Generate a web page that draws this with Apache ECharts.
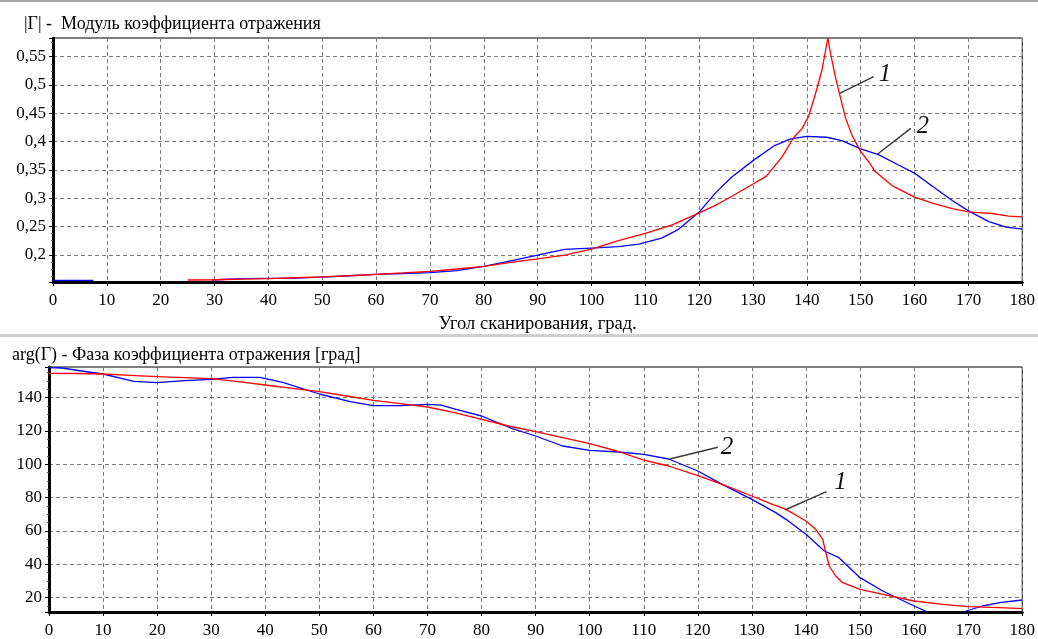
<!DOCTYPE html>
<html>
<head>
<meta charset="utf-8">
<script src="https://cdn.jsdelivr.net/npm/echarts@6/dist/echarts.min.js"></script>
<style>
html,body{margin:0;padding:0;background:#fff;}
#c{width:1038px;height:639px;}
</style>
</head>
<body>
<div id="c"></div>
<script>
// ---------- DATA ----------
const xTicks = [0,10,20,30,40,50,60,70,80,90,100,110,120,130,140,150,160,170,180];

// |Γ| curve 1 (red)
const magAngle1 = [25,30,35,40,45,50,55,60,65,70,75,80,85,90,95,100,105,110,115,120,123,126,130,132.5,135.4,137.6,139.1,140.3,141.6,142.8,143.9,144.4,145.3,146.2,147.2,148.4,149.9,151.5,152.7,155.8,160,163.3,167,170,174.4,177.5,180];
const magValue1 = [0.1555,0.156,0.157,0.158,0.1595,0.161,0.163,0.1655,0.168,0.1706,0.175,0.1795,0.1865,0.193,0.1995,0.21,0.225,0.238,0.253,0.274,0.2874,0.303,0.325,0.339,0.373,0.4077,0.423,0.444,0.4845,0.526,0.583,0.556,0.514,0.479,0.441,0.411,0.384,0.364,0.347,0.3223,0.302,0.2914,0.2816,0.2759,0.273,0.2684,0.2672];

// |Γ| curve 2 (blue)
const magAngle2 = [0,7.5,18,29.5,35,40,45,51,55,60,65,70,75,80,85,90,95,100,105,108.8,113,116,120,123,126,130,134,137,140,143.7,146.5,150,153.3,157,160,163.3,167,170,173.8,177,180];
const magValue2 = [0.155,0.155,null,0.1555,0.158,0.1585,0.159,0.161,0.163,0.1655,0.167,0.1685,0.172,0.1795,0.1895,0.1995,0.2095,0.212,0.2145,0.219,0.2294,0.244,0.2755,0.309,0.337,0.3664,0.393,0.4047,0.4094,0.4077,0.4018,0.387,0.377,0.3586,0.3443,0.3213,0.296,0.2776,0.2586,0.249,0.2455];

// arg(Γ) curve 1 (red)
const phaseAngle1 = [0,5,10,15,20,25,30,35,40,45,50,55,60,65,70,75,80,85,90,95,100,105,110,114.6,120,124.5,130,133.8,136.3,140,141.8,143.1,143.6,144.3,145.5,146.8,150,154.2,160,165.3,170,175.8,180];
const phaseValue1 = [154.6,154.5,154.2,153.4,152.6,152,151.4,149.6,147.6,145.6,143.6,141,138.4,136.4,134.4,131,127,123,119.6,116,112.4,108,102.5,99,93.2,88,81,76,73,66,61,55,48,39,33,29,25,22,18,16,14.6,14,13.4];

// arg(Γ) curve 2 (blue)
const phaseAngle2 = [0,2.4,6,10,15.7,20,25,30,34,39,43.4,50,55.7,60,65,70,72.5,75.3,80,85.7,90,95,100,105.4,110,114.6,120,124.5,130,134.4,136.3,140,143.4,146.1,150,154.2,160,162.3,166,169.6,172.7,175.8,180];
const phaseValue2 = [158,157.8,156,154.2,149.8,149,150.2,151,152.2,152.2,149,142.2,137.6,135.2,135.2,136,135.5,133,129,121.4,117,111,108.4,107.4,106,103.2,96,88,79,71,67,58,48,44,32,24,15,11.6,null,12,15,17,18.6];

// annotation labels: [text, fromAngle, fromValue, toAngle, toValue, textAngle, textValue]
const magNotes = [
  ['1', 146.1, 0.4853, 152.4, 0.5147, 154.5, 0.5194],
  ['2', 153.1, 0.3776, 159.3, 0.4235, 161.5, 0.426]
];
const phaseNotes = [
  ['2', 114.8, 103.2, 123.7, 110.2, 125.4, 110.4],
  ['1', 136.1, 72.6, 143.8, 83.6, 146.4, 89.4]
];

const titleTop = '|Γ| -  Модуль коэффициента отражения';
const titleBottom = 'arg(Γ) - Фаза коэффициента отражения [град]';
const xAxisName = 'Угол сканирования, град.';

// ---------- CHART ----------
const FONT = 'Liberation Serif';
const pairs = (xs, ys) => xs.map((x, i) => [x, ys[i] == null ? '-' : ys[i]]);

function notesMark(notes) {
  return {
    markLine: {
      silent: true, symbol: 'none',
      lineStyle: {color: '#3a3a3a', width: 1.5, type: 'solid'},
      label: {show: false},
      data: notes.map(n => [{coord: [n[1], n[2]]}, {coord: [n[3], n[4]]}])
    },
    markPoint: {
      silent: true, symbol: 'circle', symbolSize: 0,
      label: {show: true, position: 'inside', color: '#111', fontFamily: FONT, fontStyle: 'italic', fontSize: 25,
        formatter: p => p.name},
      data: notes.map(n => ({name: n[0], coord: [n[5], n[6]]}))
    }
  };
}

function xAxisCfg(gridIndex, withName) {
  const c = {
    type: 'value', gridIndex, min: 0, max: 180, interval: 10,
    axisLine: {show: true, onZero: false, lineStyle: {color: '#000', width: 3}},
    axisTick: {show: true, inside: false, length: 4, lineStyle: {color: '#000', width: 1}},
    minorTick: {show: true, splitNumber: 4, length: 2, lineStyle: {color: '#000', width: 1}},
    axisLabel: {color: '#000', fontFamily: FONT, fontSize: 17, margin: 10},
    splitLine: {show: true, lineStyle: {color: '#7a7a7a', width: 1, type: [4, 3]}}
  };
  if (withName) {
    c.name = xAxisName;
    c.nameLocation = 'middle';
    c.nameGap = 33;
    c.nameTextStyle = {color: '#000', fontFamily: FONT, fontSize: 18.5};
  }
  return c;
}

const magFmt = v => {
  const r = Math.round(v * 100) / 100;
  if (Math.abs(v - r) > 1e-6) return '';
  if (Math.abs(Math.round(r * 20) - r * 20) > 1e-6) return '';
  if (r < 0.19 || r > 0.56) return '';
  return String(r).replace('.', ',');
};
const phaseFmt = v => {
  const r = Math.round(v);
  if (Math.abs(v - r) > 1e-6 || r % 20 !== 0) return '';
  return String(r);
};

function yAxisCfg(gridIndex, min, max, step, fmt) {
  return {
    type: 'value', gridIndex, min, max, minInterval: step, maxInterval: step,
    axisLine: {show: true, onZero: false, lineStyle: {color: '#000', width: 3}},
    axisTick: {show: true, inside: false, length: 4, lineStyle: {color: '#000', width: 1}},
    minorTick: {show: true, splitNumber: 4, length: 2, lineStyle: {color: '#555', width: 1}},
    axisLabel: {color: '#000', fontFamily: FONT, fontSize: 17, margin: 7, formatter: fmt,
      showMinLabel: false, showMaxLabel: false},
    splitLine: {show: true, lineStyle: {color: '#7a7a7a', width: 1, type: [4, 3]}}
  };
}

const chart = echarts.init(document.getElementById('c'), null, {renderer: 'canvas'});
const option = {
  backgroundColor: '#fff',
  animation: false,
  title: [
    {text: titleTop, left: 19, top: 10, textStyle: {fontFamily: FONT, fontSize: 18, fontWeight: 'normal', color: '#000'}},
    {text: titleBottom, left: 7, top: 341, textStyle: {fontFamily: FONT, fontSize: 18, fontWeight: 'normal', color: '#000'}}
  ],
  graphic: [
    {type: 'rect', left: 0, top: 0, shape: {width: 1038, height: 2}, style: {fill: '#a9a9a9'}, silent: true},
    {type: 'rect', left: 0, top: 334, shape: {width: 1038, height: 3}, style: {fill: '#d0d0d0'}, silent: true}
  ],
  grid: [
    {left: 53, right: 15, top: 38, bottom: 357, show: true, borderColor: '#000', borderWidth: 1, backgroundColor: '#fff'},
    {left: 49, right: 15, top: 367, bottom: 27, show: true, borderColor: '#000', borderWidth: 1, backgroundColor: '#fff'}
  ],
  xAxis: [xAxisCfg(0, true), xAxisCfg(1, false)],
  yAxis: [
    yAxisCfg(0, 0.152, 0.583, 0.05, magFmt),
    yAxisCfg(1, 11.4, 158.4, 20, phaseFmt)
  ],
  series: [
    {type: 'line', xAxisIndex: 0, yAxisIndex: 0, data: pairs(magAngle2, magValue2), showSymbol: false,
      lineStyle: {color: '#0000ff', width: 1.3}, itemStyle: {color: '#0000ff'}, clip: true, connectNulls: false},
    Object.assign({type: 'line', xAxisIndex: 0, yAxisIndex: 0, data: pairs(magAngle1, magValue1), showSymbol: false,
      lineStyle: {color: '#ff0000', width: 1.3}, itemStyle: {color: '#ff0000'}, clip: true}, notesMark(magNotes)),
    {type: 'line', xAxisIndex: 1, yAxisIndex: 1, data: pairs(phaseAngle2, phaseValue2), showSymbol: false,
      lineStyle: {color: '#0000ff', width: 1.3}, itemStyle: {color: '#0000ff'}, clip: true, connectNulls: false},
    Object.assign({type: 'line', xAxisIndex: 1, yAxisIndex: 1, data: pairs(phaseAngle1, phaseValue1), showSymbol: false,
      lineStyle: {color: '#ff0000', width: 1.3}, itemStyle: {color: '#ff0000'}, clip: true}, notesMark(phaseNotes))
  ]
};
chart.setOption(option);
</script>
</body>
</html>
